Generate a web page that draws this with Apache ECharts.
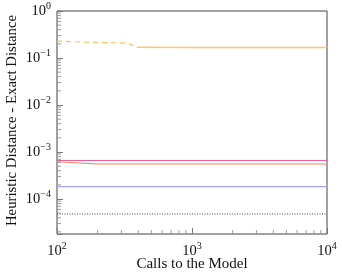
<!DOCTYPE html>
<html>
<head>
<meta charset="utf-8">
<script src="https://cdn.jsdelivr.net/npm/echarts@6/dist/echarts.min.js"></script>
<style>html,body{margin:0;padding:0;background:#fff}#c{width:342px;height:275px}</style>
</head>
<body>
<div id="c"></div>
<script>
// ---- data ----
const callsDashed = [100, 200, 300, 340, 390];
const orangeDashed = [0.228, 0.214, 0.21, 0.2, 0.17];
const callsSolid = [390, 1000, 10000];
const orangeSolid = [0.169, 0.168, 0.167];
const calls = [100, 200, 500, 1000, 2000, 5000, 10000];
const pink = [6.6e-4, 6.6e-4, 6.6e-4, 6.6e-4, 6.6e-4, 6.6e-4, 6.6e-4];
const salmon = [6.2e-4, 5.55e-4, 5.55e-4, 5.55e-4, 5.55e-4, 5.55e-4, 5.55e-4];
const blue = [1.83e-4, 1.83e-4, 1.83e-4, 1.83e-4, 1.83e-4, 1.83e-4, 1.83e-4];
const dotted = [4.8e-5, 4.8e-5, 4.8e-5, 4.8e-5, 4.8e-5, 4.8e-5, 4.8e-5];
const xMinorTicks = [200,300,400,500,600,700,800,900,2000,3000,4000,5000,6000,7000,8000,9000];
const yMinorTicks = [];
[1e-5,1e-4,1e-3,1e-2,1e-1].forEach(d => { for (let k = 2; k <= 9; k++) yMinorTicks.push(+(k*d).toPrecision(3)); });
const X_MIN = 100, X_MAX = 10000, Y_MIN = 1.8e-5, Y_MAX = 1;

const font = 'Liberation Serif';
const supLabel = (v) => {
  const e = Math.round(Math.log10(v));
  if (Math.abs(Math.log10(v) - e) > 1e-6) return '';
  const s = e < 0 ? '\u2212' + (-e) : String(e);
  return '{b|10}{s|' + s + '}';
};
const rich = {
  b: {fontFamily: font, fontSize: 14.5, color: '#111'},
  s: {fontFamily: font, fontSize: 10, color: '#111', padding: [0, 0, 10, 0]}
};

const zip = (xs, ys) => xs.map((x, i) => [x, ys[i]]);
const chart = echarts.init(document.getElementById('c'), null, {renderer: 'canvas'});

function tickSeries(values, axis) {
  return {
    type: 'custom', silent: true, clip: false, z: 5,
    data: values.map(v => [v]),
    renderItem: (params, api) => {
      const v = api.value(0);
      let p, q;
      if (axis === 'x') { p = api.coord([v, Y_MIN]); q = [p[0], p[1] - 4]; }
      else { p = api.coord([X_MIN, v]); q = [p[0] + 4, p[1]]; }
      if (axis === 'y' && (v < Y_MIN || v > Y_MAX)) return null;
      return {type: 'line', shape: {x1: p[0], y1: p[1], x2: q[0], y2: q[1]},
              style: {stroke: '#9a9a9a', lineWidth: 1}};
    }
  };
}

chart.setOption({
  animation: false,
  backgroundColor: '#fff',
  grid: {left: 57, right: 15, top: 11, bottom: 41, show: true, borderColor: '#444', borderWidth: 1,
         containLabel: false, outerBoundsMode: 'none'},
  xAxis: {
    type: 'log', logBase: 10, min: X_MIN, max: X_MAX,
    axisLine: {show: false},
    axisTick: {show: true, inside: true, length: 6, lineStyle: {color: '#777'}},
    splitLine: {show: false},
    axisLabel: {formatter: supLabel, rich: rich, margin: 7},
    name: 'Calls to the Model', nameLocation: 'middle', nameGap: 23, nameMoveOverlap: false,
    nameTextStyle: {fontFamily: font, fontSize: 15, color: '#111'}
  },
  yAxis: {
    type: 'log', logBase: 10, min: Y_MIN, max: Y_MAX,
    axisLine: {show: false},
    axisTick: {show: true, inside: true, length: 6, lineStyle: {color: '#777'}},
    splitLine: {show: false},
    axisLabel: {formatter: supLabel, rich: rich, margin: 6},
    name: 'Heuristic Distance - Exact Distance', nameLocation: 'middle', nameGap: 37, nameMoveOverlap: false,
    nameTextStyle: {fontFamily: font, fontSize: 14.8, color: '#111', padding: [0, 0, 0, 4]}
  },
  series: [
    {type: 'line', data: zip(callsDashed, orangeDashed), showSymbol: false, symbol: 'none',
     lineStyle: {color: '#fdc352', width: 1.2, type: [5, 4]}},
    {type: 'line', data: zip(callsSolid, orangeSolid), showSymbol: false, symbol: 'none',
     lineStyle: {color: '#fdc86a', width: 1.5}},
    {type: 'line', data: zip(calls, pink), showSymbol: false, symbol: 'none',
     lineStyle: {color: '#ee5f9c', width: 1.2}},
    {type: 'line', data: zip(calls, salmon), showSymbol: false, symbol: 'none',
     lineStyle: {color: '#e8875e', width: 1.2}},
    {type: 'line', data: zip(calls, blue), showSymbol: false, symbol: 'none',
     lineStyle: {color: '#a4a4ff', width: 1.2}},
    {type: 'line', data: zip(calls, dotted), showSymbol: false, symbol: 'none',
     lineStyle: {color: '#444', width: 1, type: [1, 1.5]}},
    tickSeries(xMinorTicks, 'x'),
    tickSeries(yMinorTicks, 'y')
  ]
});
</script>
</body>
</html>
